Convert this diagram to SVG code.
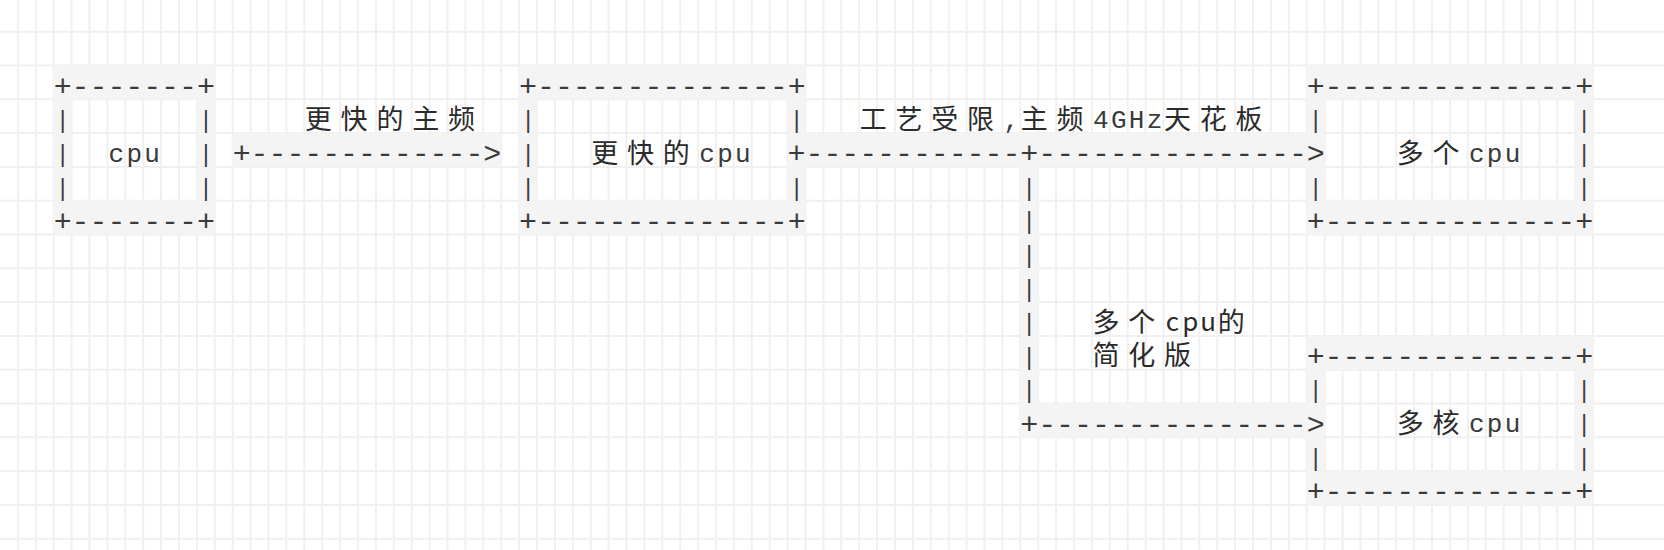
<svg xmlns="http://www.w3.org/2000/svg" width="1664" height="550" viewBox="0 0 1664 550">
<style>
.grid{fill:none;stroke:#f0f0f0;stroke-width:2}
.cell{fill:#f4f4f4}
.h{font-family:"Liberation Mono",monospace;font-size:30px;letter-spacing:-0.1px;fill:#3a3a3a}
.v{font-family:"Liberation Mono",monospace;font-size:23px;fill:#3a3a3a}
.a{font-family:"Liberation Mono",monospace;font-size:26px;letter-spacing:2.3px;fill:#3a3a3a}
.c{font-family:"Noto Sans CJK SC",sans-serif;font-size:27px;fill:#2b2b2b}
.m{font-family:"Noto Sans CJK SC",sans-serif;font-size:27px;fill:#2b2b2b;text-anchor:middle}
.s{font-size:26px}
</style>
<rect width="1664" height="550" fill="#ffffff"/>
<path class="grid" d="M17.9 0v550m17.9-550v550m17.9-550v550m17.9-550v550m17.9-550v550m17.9-550v550m17.9-550v550m17.9-550v550m17.9-550v550m17.9-550v550m17.9-550v550m17.9-550v550m17.9-550v550m17.9-550v550m17.9-550v550m17.9-550v550m17.9-550v550m17.9-550v550m17.9-550v550m17.9-550v550m17.9-550v550m17.9-550v550m17.9-550v550m17.9-550v550m17.9-550v550m17.9-550v550m17.9-550v550m17.9-550v550m17.9-550v550m17.9-550v550m17.9-550v550m17.9-550v550m17.9-550v550m17.9-550v550m17.9-550v550m17.9-550v550m17.9-550v550m17.9-550v550m17.9-550v550m17.9-550v550m17.9-550v550m17.9-550v550m17.9-550v550m17.9-550v550m17.9-550v550m17.9-550v550m17.9-550v550m17.9-550v550m17.9-550v550m17.9-550v550m17.9-550v550m17.9-550v550m17.9-550v550m17.9-550v550m17.9-550v550m17.9-550v550m17.9-550v550m17.9-550v550m17.9-550v550m17.9-550v550m17.9-550v550m17.9-550v550m17.9-550v550m17.9-550v550m17.9-550v550m17.9-550v550m17.9-550v550m17.9-550v550m17.9-550v550m17.9-550v550m17.9-550v550m17.9-550v550m17.9-550v550m17.9-550v550m17.9-550v550m17.9-550v550m17.9-550v550m17.9-550v550m17.9-550v550m17.9-550v550m17.9-550v550m17.9-550v550m17.9-550v550m17.9-550v550m17.9-550v550m17.9-550v550m17.9-550v550m17.9-550v550m17.9-550v550M0 31.7h1664m-1664 33.8h1664m-1664 33.8h1664m-1664 33.8h1664m-1664 33.8h1664m-1664 33.8h1664m-1664 33.8h1664m-1664 33.8h1664m-1664 33.8h1664m-1664 33.8h1664m-1664 33.8h1664m-1664 33.8h1664m-1664 33.8h1664m-1664 33.8h1664m-1664 33.8h1664m-1664 33.8h1664"/>

<g id="node-cpu">
<rect class="cell" x="53.7" y="65.5" width="161.1" height="33.8"/>
<rect class="cell" x="53.7" y="200.7" width="161.1" height="33.8"/>
<rect class="cell" x="53.7" y="65.5" width="17.9" height="169"/>
<rect class="cell" x="196.9" y="65.5" width="17.9" height="169"/>
<text class="h" x="53.7" y="95.5">+-------+</text>
<text class="v" x="55.75" y="127.9">|</text>
<text class="v" x="198.95" y="127.9">|</text>
<text class="v" x="55.75" y="161.7">|</text>
<text class="a" x="108.55" y="161.7">cpu</text>
<text class="v" x="198.95" y="161.7">|</text>
<text class="v" x="55.75" y="195.5">|</text>
<text class="v" x="198.95" y="195.5">|</text>
<text class="h" x="53.7" y="230.7">+-------+</text>
</g>

<g id="node-faster-cpu">
<rect class="cell" x="519.1" y="65.5" width="286.4" height="33.8"/>
<rect class="cell" x="519.1" y="200.7" width="286.4" height="33.8"/>
<rect class="cell" x="519.1" y="65.5" width="17.9" height="169"/>
<rect class="cell" x="787.6" y="65.5" width="17.9" height="169"/>
<text class="h" x="519.1" y="95.5">+--------------+</text>
<text class="v" x="521.15" y="127.9">|</text>
<text class="v" x="789.65" y="127.9">|</text>
<text class="v" x="521.15" y="161.7">|</text>
<text class="c" x="591.2 627 662.8" y="162.6">更快的</text>
<text class="a" x="699.25" y="161.7">cpu</text>
<text class="v" x="521.15" y="195.5">|</text>
<text class="v" x="789.65" y="195.5">|</text>
<text class="h" x="519.1" y="230.7">+--------------+</text>
</g>

<g id="node-multi-cpu">
<rect class="cell" x="1306.7" y="65.5" width="286.4" height="33.8"/>
<rect class="cell" x="1306.7" y="200.7" width="286.4" height="33.8"/>
<rect class="cell" x="1306.7" y="65.5" width="17.9" height="169"/>
<rect class="cell" x="1575.2" y="65.5" width="17.9" height="169"/>
<text class="h" x="1306.7" y="95.5">+--------------+</text>
<text class="v" x="1308.75" y="127.9">|</text>
<text class="v" x="1577.25" y="127.9">|</text>
<text class="c" x="1396.7 1432.5" y="162.6">多个</text>
<text class="a" x="1468.95" y="161.7">cpu</text>
<text class="v" x="1577.25" y="161.7">|</text>
<text class="v" x="1308.75" y="195.5">|</text>
<text class="v" x="1577.25" y="195.5">|</text>
<text class="h" x="1306.7" y="230.7">+--------------+</text>
</g>

<g id="node-multicore-cpu">
<rect class="cell" x="1306.7" y="335.9" width="286.4" height="33.8"/>
<rect class="cell" x="1306.7" y="471.1" width="286.4" height="33.8"/>
<rect class="cell" x="1306.7" y="335.9" width="17.9" height="169"/>
<rect class="cell" x="1575.2" y="335.9" width="17.9" height="169"/>
<text class="h" x="1306.7" y="365.9">+--------------+</text>
<text class="v" x="1308.75" y="398.3">|</text>
<text class="v" x="1577.25" y="398.3">|</text>
<text class="c" x="1396.7 1432.5" y="433">多核</text>
<text class="a" x="1468.95" y="432.1">cpu</text>
<text class="v" x="1577.25" y="432.1">|</text>
<text class="v" x="1308.75" y="465.9">|</text>
<text class="v" x="1577.25" y="465.9">|</text>
<text class="h" x="1306.7" y="501.1">+--------------+</text>
</g>

<g id="connectors">
<rect class="cell" x="232.7" y="133.1" width="268.5" height="33.8"/>
<rect class="cell" x="787.6" y="133.1" width="537" height="33.8"/>
<rect class="cell" x="1020.3" y="133.1" width="17.9" height="304.2"/>
<rect class="cell" x="1020.3" y="403.5" width="304.3" height="33.8"/>
<text class="h" x="232.7" y="163.1">+-------------&gt;</text>
<text class="h" x="787.6" y="163.1">+------------+---------------&gt;</text>
<text class="v" x="1022.35" y="195.5">|</text>
<text class="v" x="1022.35" y="229.3">|</text>
<text class="v" x="1022.35" y="263.1">|</text>
<text class="v" x="1022.35" y="296.9">|</text>
<text class="v" x="1022.35" y="330.7">|</text>
<text class="v" x="1022.35" y="364.5">|</text>
<text class="v" x="1022.35" y="398.3">|</text>
<text class="h" x="1020.3" y="433.5">+---------------&gt;</text>
</g>

<g id="labels">
<text class="c" x="304.8 340.6 376.4 412.2 448" y="128.8">更快的主频</text>
<text class="c" x="859.7 895.5 931.3 967.1" y="128.8">工艺受限</text>
<text class="a" x="1003.55" y="127.9">,</text>
<text class="c" x="1020.8 1056.6" y="128.8">主频</text>
<text class="a" x="1093.05" y="127.9">4GHz</text>
<text class="c" x="1164 1199.8 1235.6" y="128.8">天花板</text>
<text class="m"><tspan x="1105.9 1141.7" y="331.6">多个</tspan><tspan class="s" x="1172.45 1190.35 1208.25" y="331">cpu</tspan><tspan x="1231.2" y="331.6">的</tspan><tspan x="1105.9 1141.7 1177.5" y="365.4">简化版</tspan></text>
</g>
</svg>
